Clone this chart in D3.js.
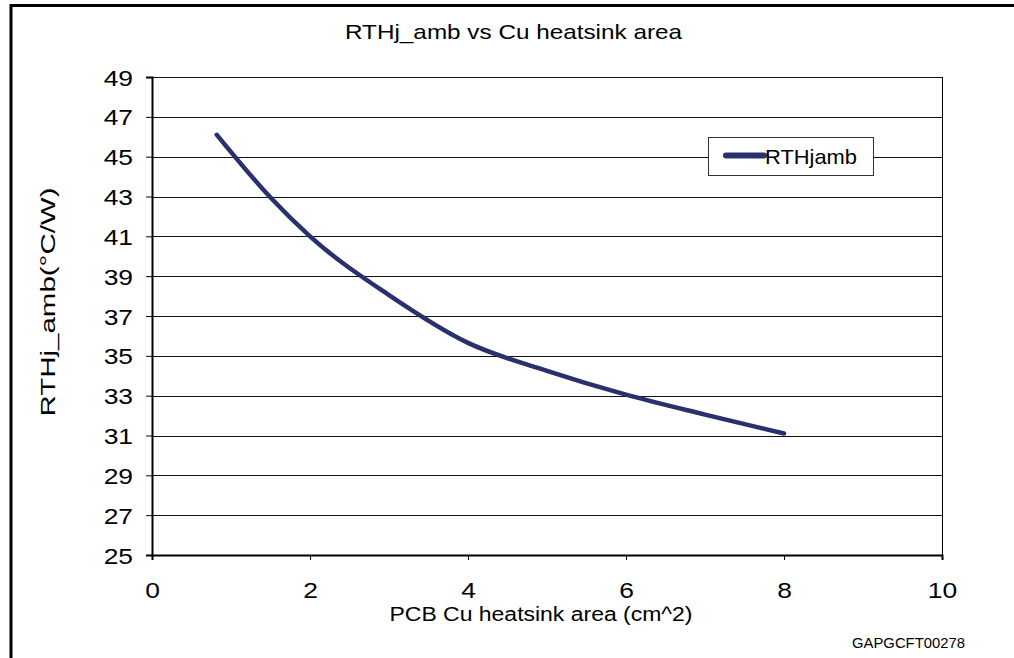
<!DOCTYPE html>
<html>
<head>
<meta charset="utf-8">
<script src="https://cdn.jsdelivr.net/npm/d3@7"></script>
<style>
  html, body { margin: 0; padding: 0; background: #fff; }
  svg { display: block; font-family: "Liberation Sans", Arial, sans-serif; }
</style>
</head>
<body>
<svg id="chart" width="1014" height="658"></svg>
<script>
// ---- data ----
const areaCm2 = [0.82, 1.5, 2, 3, 4, 5, 6, 7, 8];
const rthJamb = [46.1, 42.95, 41.0, 38.05, 35.65, 34.25, 33.05, 32.05, 31.1];
const xTicks = [0, 2, 4, 6, 8, 10];
const yTicks = [25, 27, 29, 31, 33, 35, 37, 39, 41, 43, 45, 47, 49];
const seriesName = "RTHjamb";
const titleText = "RTHj_amb vs Cu heatsink area";
const xTitle = "PCB Cu heatsink area (cm^2)";
const yTitle = "RTHj_amb(°C/W)";
const codeText = "GAPGCFT00278";

const svg = d3.select("#chart");
const L = 152, R = 942, T = 77, B = 555;
const SX = 1.2; // horizontal glyph stretch seen in the reference

const x = d3.scaleLinear().domain([0, 10]).range([L, R]);
const y = d3.scaleLinear().domain([25, 49]).range([B, T]);

// outer frame
svg.append("path")
  .attr("d", `M11,700 L11,5.5 L1020,5.5`)
  .attr("fill", "none").attr("stroke", "#000").attr("stroke-width", 3);

// title
svg.append("text").attr("x", 513.5).attr("y", 39)
  .attr("text-anchor", "middle").attr("font-size", 21).attr("fill", "#000")
  .attr("textLength", 337).attr("lengthAdjust", "spacingAndGlyphs")
  .text(titleText);

// gridlines
svg.append("g").selectAll("line").data(yTicks).join("line")
  .attr("x1", L).attr("x2", R)
  .attr("y1", d => Math.round(y(d)) + 0.5).attr("y2", d => Math.round(y(d)) + 0.5)
  .attr("stroke", "#111").attr("stroke-width", 1);

// right border
svg.append("line").attr("x1", R + 0.5).attr("x2", R + 0.5).attr("y1", T).attr("y2", B)
  .attr("stroke", "#000").attr("stroke-width", 1);

// y axis
const yAxis = d3.axisLeft(y).tickValues(yTicks).tickSize(6).tickFormat(d3.format("d"));
const gy = svg.append("g").attr("transform", `translate(${L},0)`).call(yAxis);
gy.select(".domain").attr("stroke", "#000").attr("stroke-width", 2);
gy.selectAll(".tick line").attr("stroke", "#000");
gy.selectAll(".tick text")
  .attr("x", null).attr("dy", null).attr("y", 8)
  .attr("transform", `translate(-19,0) scale(${SX},1)`)
  .attr("text-anchor", "end")
  .attr("font-size", 22).attr("fill", "#000")
  .attr("font-family", "Liberation Sans, Arial, sans-serif");

// x axis
const xAxis = d3.axisBottom(x).tickValues(xTicks).tickSize(5).tickFormat(d3.format("d"));
const gx = svg.append("g").attr("transform", `translate(0,${B})`).call(xAxis);
gx.select(".domain").attr("stroke", "#000").attr("stroke-width", 2);
gx.selectAll(".tick line").attr("stroke", "#000");
gx.selectAll(".tick text")
  .attr("y", null).attr("dy", null)
  .attr("transform", `translate(0,43) scale(${SX},1)`)
  .attr("font-size", 22).attr("fill", "#000")
  .attr("font-family", "Liberation Sans, Arial, sans-serif");

// axis titles
svg.append("text").attr("x", 541).attr("y", 621)
  .attr("text-anchor", "middle").attr("font-size", 20).attr("fill", "#000")
  .attr("textLength", 303).attr("lengthAdjust", "spacingAndGlyphs")
  .text(xTitle);
svg.append("text")
  .attr("transform", `translate(55,302) rotate(-90)`)
  .attr("text-anchor", "middle").attr("font-size", 21).attr("fill", "#000")
  .attr("textLength", 229).attr("lengthAdjust", "spacingAndGlyphs")
  .text(yTitle);

// series line
const pts = areaCm2.map((a, i) => [a, rthJamb[i]]);
const line = d3.line().x(d => x(d[0])).y(d => y(d[1])).curve(d3.curveMonotoneX);
svg.append("path").datum(pts)
  .attr("d", line)
  .attr("fill", "none").attr("stroke", "#29306e").attr("stroke-width", 4.5)
  .attr("stroke-linecap", "round").attr("stroke-linejoin", "round");

// legend
const lg = svg.append("g");
lg.append("rect").attr("x", 708.5).attr("y", 137.5).attr("width", 165).attr("height", 38)
  .attr("fill", "#fff").attr("stroke", "#333").attr("stroke-width", 1);
lg.append("line").attr("x1", 726).attr("x2", 764).attr("y1", 155.5).attr("y2", 155.5)
  .attr("stroke", "#29306e").attr("stroke-width", 6).attr("stroke-linecap", "round");
lg.append("text").attr("x", 765).attr("y", 164).attr("font-size", 21).attr("fill", "#000")
  .attr("textLength", 92).attr("lengthAdjust", "spacingAndGlyphs")
  .text(seriesName);

// code text
svg.append("text").attr("x", 852).attr("y", 648)
  .attr("font-size", 14).attr("fill", "#000")
  .attr("textLength", 113).attr("lengthAdjust", "spacingAndGlyphs")
  .text(codeText);
</script>
</body>
</html>
